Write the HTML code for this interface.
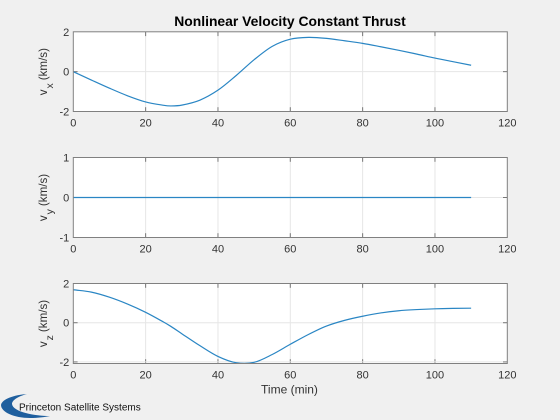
<!DOCTYPE html>
<html>
<head>
<meta charset="utf-8">
<title>Nonlinear Velocity Constant Thrust</title>
<style>
html,body{margin:0;padding:0;background:#f0f0f0;overflow:hidden;}
#fig{display:block;width:560px;height:420px;font-family:"Liberation Sans",Arial,sans-serif;filter:blur(0.3px);}
</style>
</head>
<body>
<svg id="fig" xmlns="http://www.w3.org/2000/svg" width="560" height="420" viewBox="0 0 560 420">
<rect x="0" y="0" width="560" height="420" fill="#f0f0f0"/>
<g id="plots"></g>
<text x="290" y="26" text-anchor="middle" font-size="13.9" font-weight="bold" fill="#000">Nonlinear Velocity Constant Thrust</text>
<text x="289.5" y="393.5" text-anchor="middle" font-size="12" fill="#333">Time (min)</text>
<g>
<path d="M27 394 C14 395 2 399 1 405 C1 412 14 418 30 418 C38 418 45 417 50 416 C35 416 13 412 12 404 C12 400 19 396 27 394 Z" fill="#1f5f9e"/>
<text x="19" y="410.7" font-size="10" fill="#111">Princeton Satellite Systems</text>
</g>
</svg>
<script>
var times = [0,5,10,15,20,25,27,30,35,40,45,50,55,60,65,70,75,80,85,90,95,100,105,110];
var vxValues = [0,-0.42,-0.83,-1.21,-1.52,-1.69,-1.72,-1.68,-1.43,-0.93,-0.2,0.6,1.27,1.63,1.72,1.67,1.55,1.42,1.25,1.07,0.88,0.68,0.5,0.32];
var vyValues = [0,0,0,0,0,0,0,0,0,0,0,0,0,0,0,0,0,0,0,0,0,0,0,0];
var vzValues = [1.68,1.56,1.3,0.95,0.53,0.03,-0.19,-0.56,-1.17,-1.72,-2.04,-2.02,-1.62,-1.1,-0.6,-0.17,0.12,0.33,0.5,0.61,0.67,0.71,0.73,0.74];
var xTicks = [0,20,40,60,80,100,120];
var vxTicks = [-2,0,2];
var vyTicks = [-1,0,1];
var vzTicks = [-2,0,2];
var vxLimits = [-2,2];
var vyLimits = [-1,1];
var vzLimits = [-2.08,2];
var xLimits = [0,120];

var NS = 'http://www.w3.org/2000/svg';
var plots = document.getElementById('plots');
var LEFT = 73.3, RIGHT = 507.3;

function make(tag, attrs, parent) {
  var el = document.createElementNS(NS, tag);
  for (var k in attrs) el.setAttribute(k, attrs[k]);
  parent.appendChild(el);
  return el;
}
function scaleX(t) {
  return LEFT + (t - xLimits[0]) / (xLimits[1] - xLimits[0]) * (RIGHT - LEFT);
}
function smoothPath(px, py) {
  var d = 'M' + px[0].toFixed(2) + ' ' + py[0].toFixed(2);
  for (var i = 0; i < px.length - 1; i++) {
    var a = Math.max(i - 1, 0), b = Math.min(i + 2, px.length - 1);
    var span = px[i + 1] - px[i];
    var m0 = (py[i + 1] - py[a]) / (px[i + 1] - px[a]);
    var m1 = (py[b] - py[i]) / (px[b] - px[i]);
    d += 'C' + (px[i] + span / 3).toFixed(2) + ' ' + (py[i] + m0 * span / 3).toFixed(2) + ' ' +
         (px[i + 1] - span / 3).toFixed(2) + ' ' + (py[i + 1] - m1 * span / 3).toFixed(2) + ' ' +
         px[i + 1].toFixed(2) + ' ' + py[i + 1].toFixed(2);
  }
  return d;
}
function drawPlot(key, top, bottom, limits, yTicks, values, subscript) {
  var scaleY = function (v) {
    return bottom - (v - limits[0]) / (limits[1] - limits[0]) * (bottom - top);
  };
  var g = make('g', {}, plots);
  
  

  var bg = make('rect', {x: LEFT, y: top, width: RIGHT - LEFT, height: bottom - top, fill: '#fff'}, g);
  
  

  xTicks.forEach(function (t) {
    var x = scaleX(t);
    if (t > xLimits[0] && t < xLimits[1]) {
      var gl = make('line', {x1: x, x2: x, y1: top, y2: bottom, stroke: '#e6e6e6', 'stroke-width': 1}, g);
      
      
      var t1 = make('line', {x1: x, x2: x, y1: top, y2: top + 4.3, stroke: '#777', 'stroke-width': 1}, g);
      
      
      var t2 = make('line', {x1: x, x2: x, y1: bottom, y2: bottom - 4.3, stroke: '#777', 'stroke-width': 1}, g);
      
      
    }
    var lab = make('text', {x: x, y: bottom + 15, 'text-anchor': 'middle', 'font-size': 11, fill: '#333'}, g);
    
    
    lab.textContent = String(t);
  });

  yTicks.forEach(function (v) {
    var y = scaleY(v);
    if (v > limits[0] && v < limits[1]) {
      var gl = make('line', {x1: LEFT, x2: RIGHT, y1: y, y2: y, stroke: '#e6e6e6', 'stroke-width': 1}, g);
      
      
      var t1 = make('line', {x1: LEFT, x2: LEFT + 4.3, y1: y, y2: y, stroke: '#777', 'stroke-width': 1}, g);
      
      
      var t2 = make('line', {x1: RIGHT, x2: RIGHT - 4.3, y1: y, y2: y, stroke: '#777', 'stroke-width': 1}, g);
      
      
    }
    var lab = make('text', {x: LEFT - 4, y: y + 4, 'text-anchor': 'end', 'font-size': 11, fill: '#333'}, g);
    
    
    lab.textContent = String(v);
  });

  var px = times.map(scaleX);
  var py = values.map(scaleY);
  var line = make('path', {d: smoothPath(px, py), fill: 'none', stroke: '#2a86c4', 'stroke-width': 1.2}, g);
  
  

  var box = make('rect', {x: LEFT, y: top, width: RIGHT - LEFT, height: bottom - top, fill: 'none', stroke: '#808080', 'stroke-width': 1}, g);
  
  

  var cy = (top + bottom) / 2;
  var title = make('text', {transform: 'translate(47 ' + cy + ') rotate(-90)', 'text-anchor': 'middle', 'font-size': 11.6, fill: '#333'}, g);
  
  
  var s1 = make('tspan', {}, title);
  s1.textContent = 'v';
  var s2 = make('tspan', {dy: 6, dx: 1, 'font-size': 10.5}, title);
  s2.textContent = subscript;
  var s3 = make('tspan', {dy: -6, dx: 3}, title);
  s3.textContent = '(km/s)';
}
drawPlot('vx', 31.8, 111.5, vxLimits, vxTicks, vxValues, 'x');
drawPlot('vy', 157.5, 237.5, vyLimits, vyTicks, vyValues, 'y');
drawPlot('vz', 283.5, 363.5, vzLimits, vzTicks, vzValues, 'z');
</script>
</body>
</html>
